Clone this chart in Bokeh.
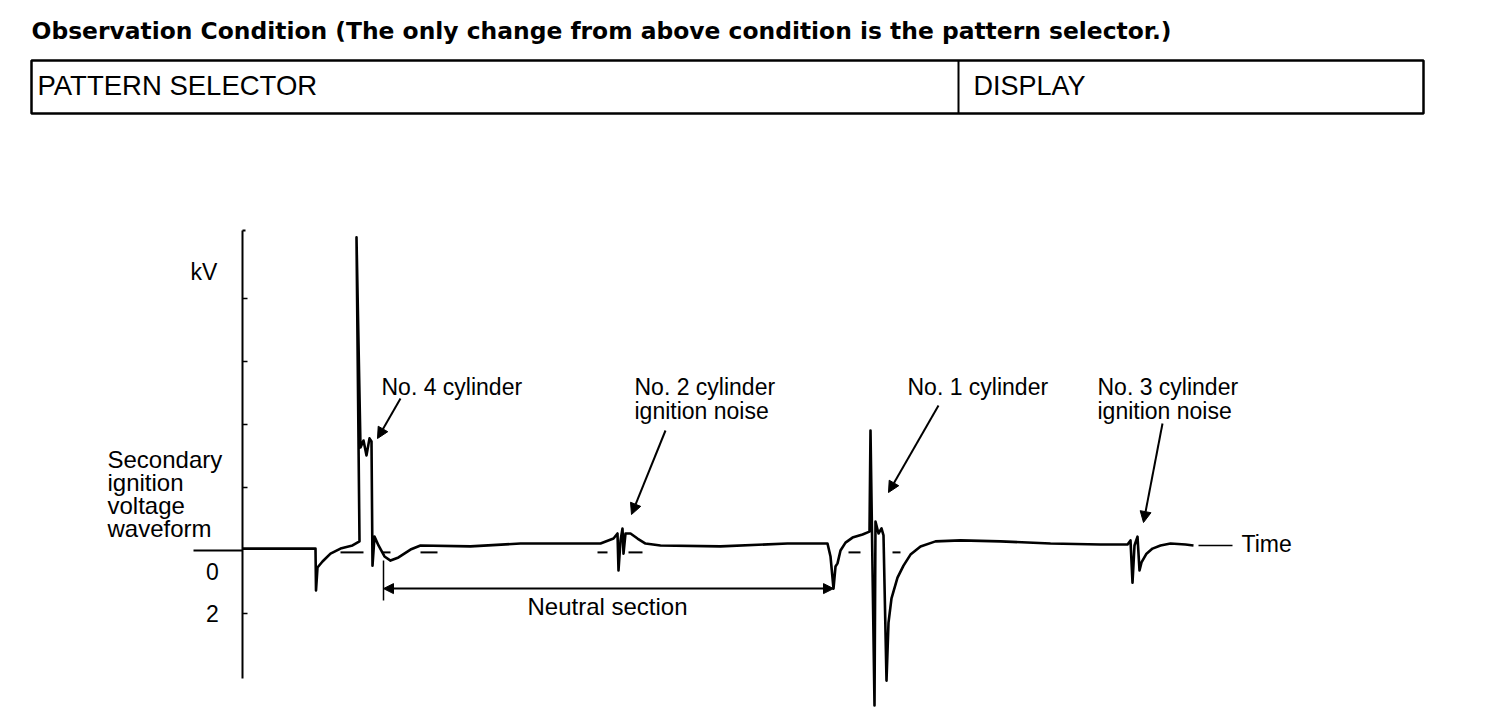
from bokeh.plotting import figure
from bokeh.models import Range1d, Arrow, NormalHead
from bokeh.core.properties import value
from bokeh.embed import file_html
from bokeh.resources import INLINE

# ---------------- data (time in arbitrary units, voltage in kV) ----------------
wave_t = [0.0, 7.3, 7.35, 7.5, 8.0, 8.8, 9.8, 11.0, 11.7, 11.4, 11.8, 12.1, 12.4, 12.7, 12.9,
          13.0, 13.2, 13.6, 14.2, 14.8, 15.6, 16.8, 17.8, 22.8, 27.8, 35.8, 37.1, 37.5, 37.6,
          37.8, 38.0, 38.1, 38.3, 38.8, 39.5, 40.3, 41.8, 47.8, 54.5, 58.5, 58.8, 59.1, 59.3,
          59.5, 59.8, 60.3, 61.0, 62.0, 62.7, 62.8, 63.2, 63.3, 63.6, 63.9, 64.1, 64.4, 64.6,
          64.9, 65.5, 66.1, 66.8, 67.8, 69.3, 71.8, 75.8, 80.8, 85.8, 88.5, 88.8, 89.0, 89.2,
          89.5, 89.7, 89.9, 90.4, 91.0, 91.8, 92.8, 94.3, 95.1]
wave_kv = [0.06, 0.06, -1.27, -0.54, -0.35, -0.10, 0.06, 0.16, 0.29, 9.94, 3.27, 3.49, 3.02, 3.56, 3.46,
           -0.48, 0.44, 0.16, -0.19, -0.32, -0.22, 0.03, 0.16, 0.13, 0.22, 0.22, 0.38, 0.54, -0.63,
           0.31, 0.70, -0.10, 0.54, 0.54, 0.38, 0.22, 0.16, 0.13, 0.22, 0.22, -0.19, -1.21, -0.51,
           -0.41, 0.0, 0.25, 0.41, 0.51, 0.60, 3.81, -4.92, 0.92, 0.54, 0.70, 0.48, -4.13, -2.29,
           -1.52, -0.86, -0.48, -0.13, 0.13, 0.29, 0.32, 0.29, 0.22, 0.19, 0.19, 0.32, -1.02, 0.16,
           0.44, -0.63, -0.38, -0.10, 0.06, 0.16, 0.22, 0.19, 0.16]

ref_dash_t0 = [9.8, 14.0, 17.8, 35.5, 38.6, 60.6, 65.0]
ref_dash_t1 = [12.1, 14.8, 19.5, 36.5, 40.0, 61.8, 65.8]
ref_kv = -0.06

axis_top_kv = 10.16
axis_bottom_kv = -4.06
tick_kv = [8, 6, 4, 2, -2]
tick_label_text = ["0", "2"]
tick_label_kv = [0, -2]

neutral_t = [14.1, 59.1]
neutral_kv = -1.21

# ---------------- layout helpers (page pixel -> data coordinates) ----------------
def tx(X):
    return (X - 242) / 10.0

def vy(Y):
    return (550 - Y) / 31.5

W, H = 1488, 712
p = figure(width=W, height=H, x_range=Range1d(tx(0), tx(W)), y_range=Range1d(vy(H), vy(0)),
           output_backend="svg", toolbar_location=None, min_border=0,
           x_axis_location=None, y_axis_location=None)
p.grid.visible = False
p.outline_line_color = None
p.background_fill_color = "white"

FONT = value("Liberation Sans")

def txt(X, Y, s, size="23px", align="left", bold=False, font=FONT):
    p.text(x=[tx(X)], y=[vy(Y)], text=[s], text_font=font, text_font_size=size,
           text_align=align, text_baseline="middle", text_color="black",
           text_font_style="bold" if bold else "normal")

# ---------------- header ----------------
txt(31, 30, "Observation Condition (The only change from above condition is the pattern selector.)",
    size="23.4px", bold=True, font=value("DejaVu Sans"))
p.quad(left=[tx(31)], right=[tx(1423)], top=[vy(60)], bottom=[vy(113)],
       fill_color=None, line_color="black", line_width=2.5)
p.segment(x0=[tx(958)], x1=[tx(958)], y0=[vy(60)], y1=[vy(113)], line_color="black", line_width=2)
txt(37, 85, "PATTERN SELECTOR", size="27.5px")
txt(973, 85, "DISPLAY", size="27px")

# ---------------- axis ----------------
p.segment(x0=[0], x1=[0], y0=[axis_bottom_kv], y1=[axis_top_kv], line_color="black", line_width=2)
p.segment(x0=[0], x1=[0.3], y0=[axis_top_kv], y1=[axis_top_kv], line_color="black", line_width=2)
p.segment(x0=[0] * len(tick_kv), x1=[0.5] * len(tick_kv), y0=tick_kv, y1=tick_kv,
          line_color="black", line_width=1.5)
p.segment(x0=[tx(193)], x1=[0], y0=[0], y1=[0], line_color="black", line_width=2)
p.text(x=[tx(212)] * 2, y=tick_label_kv, text=tick_label_text, text_font=FONT, text_font_size="23px",
       text_align="center", text_baseline="middle", y_offset=[21, 0], text_color="black")
txt(190, 271, "kV")
for i, s in enumerate(["Secondary", "ignition", "voltage", "waveform"]):
    txt(107, 459 + 23 * i, s, size="24px")

# ---------------- reference dashes & waveform ----------------
p.segment(x0=ref_dash_t0, x1=ref_dash_t1, y0=[ref_kv] * len(ref_dash_t0), y1=[ref_kv] * len(ref_dash_t0),
          line_color="black", line_width=2)
p.line(wave_t, wave_kv, line_color="black", line_width=2.6, line_join="round")

# time label
p.segment(x0=[tx(1198)], x1=[tx(1232)], y0=[vy(545)], y1=[vy(545)], line_color="black", line_width=1.5)
txt(1241, 543, "Time")

# neutral section
p.segment(x0=[neutral_t[0]], x1=[neutral_t[0]], y0=[vy(560)], y1=[vy(600)], line_color="black", line_width=1.5)
p.add_layout(Arrow(start=NormalHead(size=10, fill_color="black", line_color="black"),
                   end=NormalHead(size=10, fill_color="black", line_color="black"),
                   x_start=neutral_t[0], y_start=neutral_kv, x_end=neutral_t[1], y_end=neutral_kv,
                   line_width=2, line_color="black"))
txt(607, 606, "Neutral section", align="center", size="24px")

# annotations
txt(381, 386, "No. 4 cylinder")
txt(634, 386, "No. 2 cylinder")
txt(634, 410, "ignition noise")
txt(907, 386, "No. 1 cylinder")
txt(1097, 386, "No. 3 cylinder")
txt(1097, 410, "ignition noise")

for (xs, ys, xe, ye) in [(400, 398, 377, 438), (665, 430, 631, 514), (938, 405, 888, 492), (1162, 423, 1143, 522)]:
    p.add_layout(Arrow(end=NormalHead(size=11, fill_color="black", line_color="black"),
                       x_start=tx(xs), y_start=vy(ys), x_end=tx(xe), y_end=vy(ye),
                       line_width=2, line_color="black"))

open("out.html", "w").write(file_html(p, INLINE))
